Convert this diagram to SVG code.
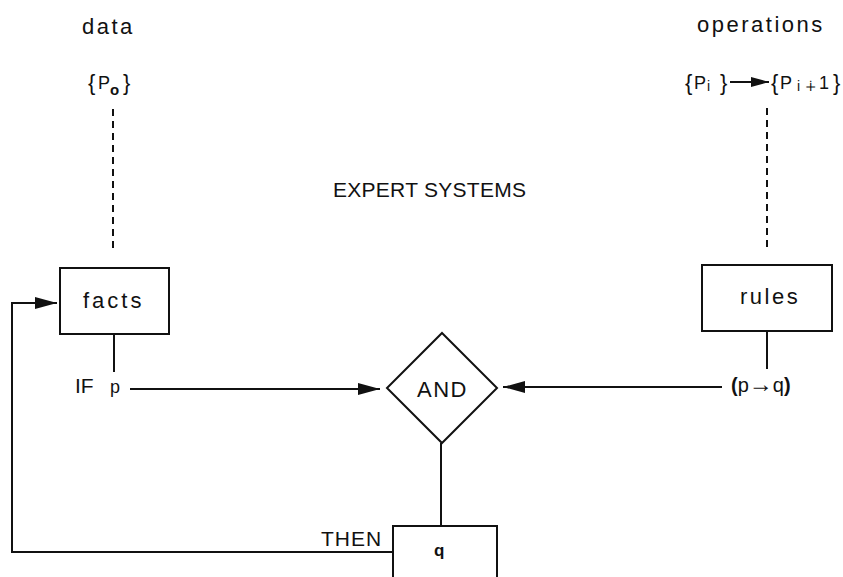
<svg xmlns="http://www.w3.org/2000/svg" width="843" height="577" viewBox="0 0 843 577">
<style>
text{font-family:"Liberation Sans",Arial,sans-serif;fill:#111}
.lbl{font-size:22px;letter-spacing:2.5px}
.br{font-size:22px}
.box{fill:#fff;stroke:#111;stroke-width:2}
.ln{fill:none;stroke:#111;stroke-width:2}
.dash{fill:none;stroke:#111;stroke-width:2;stroke-dasharray:7 5}
</style>
<defs>
<marker id="ah" markerUnits="userSpaceOnUse" markerWidth="22" markerHeight="12" refX="22" refY="6" orient="auto">
<path d="M0,0 L22,6 L0,12 Z" fill="#111"/>
</marker>
<marker id="ahs" markerUnits="userSpaceOnUse" markerWidth="18" markerHeight="10" refX="18" refY="5" orient="auto">
<path d="M0,0 L18,5 L0,10 Z" fill="#111"/>
</marker>
</defs>
<rect width="843" height="577" fill="#fff"/>
<g id="connectors">
<line class="dash" x1="113" y1="109" x2="113" y2="253"/>
<line class="dash" x1="767" y1="108" x2="767" y2="249"/>
<line class="ln" x1="114" y1="334" x2="114" y2="372"/>
<line class="ln" x1="767" y1="331" x2="767" y2="369"/>
<line class="ln" x1="130" y1="389" x2="380" y2="389" marker-end="url(#ah)"/>
<line class="ln" x1="722" y1="387" x2="503" y2="387" marker-end="url(#ah)"/>
<line class="ln" x1="441" y1="443" x2="441" y2="526"/>
<polyline class="ln" points="393,552 12,552 12,303 57,303" marker-end="url(#ah)"/>
<line class="ln" x1="730" y1="82" x2="769" y2="82" marker-end="url(#ahs)"/>
</g>
<g id="title"><text x="333" y="197" font-size="21" textLength="193" lengthAdjust="spacing">EXPERT SYSTEMS</text></g>
<g id="data"><text class="lbl" x="82" y="34">data</text></g>
<g id="operations"><text class="lbl" x="697" y="32">operations</text></g>
<g id="p0">
<text class="br" x="88" y="90">{</text>
<text x="98" y="89" font-size="18">P</text>
<text x="110" y="95" font-size="15" font-weight="bold">o</text>
<text class="br" x="123" y="90">}</text>
</g>
<g id="pi">
<text class="br" x="685" y="90">{</text>
<text x="694" y="89" font-size="18">P</text>
<text x="707" y="91" font-size="14">i</text>
<text class="br" x="720" y="90">}</text>
<text class="br" x="771" y="90">{</text>
<text x="780" y="89" font-size="18">P</text>
<text x="797" y="91" font-size="14">i</text>
<text x="805" y="91" font-size="14" style="font-family:'DejaVu Sans',sans-serif">∔</text>
<text x="819" y="89" font-size="18">1</text>
<text class="br" x="833" y="90">}</text>
</g>
<g id="facts">
<rect class="box" x="60" y="268" width="109" height="66"/>
<text class="lbl" x="83" y="308" style="letter-spacing:3px">facts</text>
</g>
<g id="rules">
<rect class="box" x="702" y="265" width="130" height="66"/>
<text class="lbl" x="740" y="304">rules</text>
</g>
<g id="and">
<polygon class="box" points="442,333 497,388 442,443 387,388"/>
<text x="417" y="397" font-size="22" letter-spacing="1.5">AND</text>
</g>
<g id="q">
<rect class="box" x="393" y="526" width="104" height="60"/>
<text x="434" y="556" font-size="17" font-weight="bold">q</text>
</g>
<g id="if-p">
<text x="75" y="393" font-size="21">IF</text>
<text x="110" y="393" font-size="18">p</text>
</g>
<g id="then"><text x="321" y="546" font-size="21" letter-spacing="1">THEN</text></g>
<g id="implication"><text x="731" y="392" font-size="20"><tspan font-weight="bold">(</tspan>p<tspan font-size="24" font-weight="bold">→</tspan>q<tspan font-weight="bold">)</tspan></text></g>
</svg>
